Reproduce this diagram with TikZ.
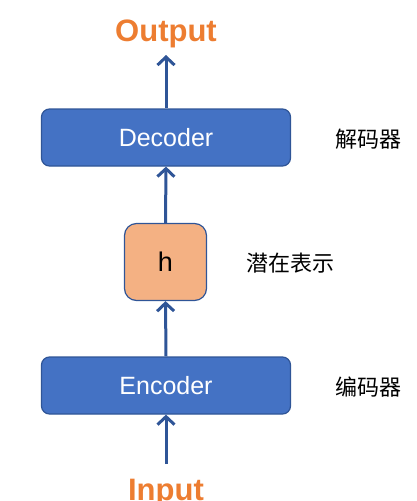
\documentclass[tikz,border=0pt]{standalone}
\usepackage{fontspec}
\setmainfont{Liberation Sans}
\newfontfamily\cjk{Noto Sans CJK SC}
\usetikzlibrary{arrows.meta}
\definecolor{boxblue}{HTML}{4472C4}
\definecolor{lineblue}{HTML}{2F5597}
\definecolor{hfill}{HTML}{F4B183}
\definecolor{orng}{HTML}{ED7D31}
\tikzset{
    block/.style={draw=lineblue, fill=boxblue, line width=1.2pt, rounded corners=8pt,
        minimum width=249pt, minimum height=57pt, text=white, font=\fontsize{25}{28}\selectfont},
    hbox/.style={draw=lineblue, fill=hfill, line width=1.2pt, rounded corners=12pt,
        minimum width=82pt, minimum height=77pt, font=\fontsize{27}{30}\selectfont},
    io/.style={text=orng, font=\bfseries\fontsize{31}{34}\selectfont},
    tag/.style={font=\cjk\fontsize{22}{26}\selectfont},
    flow/.style={draw=lineblue, line width=3pt, -{Straight Barb[length=8pt, width=17pt, line width=3pt]}}
}
\begin{document}
\begin{tikzpicture}[x=1pt, y=-1pt]
        \useasboundingbox (0,0) rectangle (416,501);
        
        \node[block] (dec) at (166,137.5) {Decoder};
        \node[hbox] (h) at (165.5,262) {h};
        \node[block] (enc) at (166,385.5) {Encoder};
        
        \node[io, anchor=base] (out) at (166,41) {Output};
        \node[io, anchor=base] (in) at (166,500) {Input};
        \coordinate (outtip) at (166,55);
        \coordinate (intail) at (166,464);
        
        \node[tag] (dectag) at (368.5,139) {解码器};
        \node[tag] (htag) at (290,263) {潜在表示};
        \node[tag] (enctag) at (368.5,387) {编码器};
        
        \draw[flow] (intail) -- (enc.south);
        \draw[flow] (enc.north) -- (h.south);
        \draw[flow] (h.north) -- (dec.south);
        \draw[flow] (dec.north) -- (outtip);
    \end{tikzpicture}
\end{document}
